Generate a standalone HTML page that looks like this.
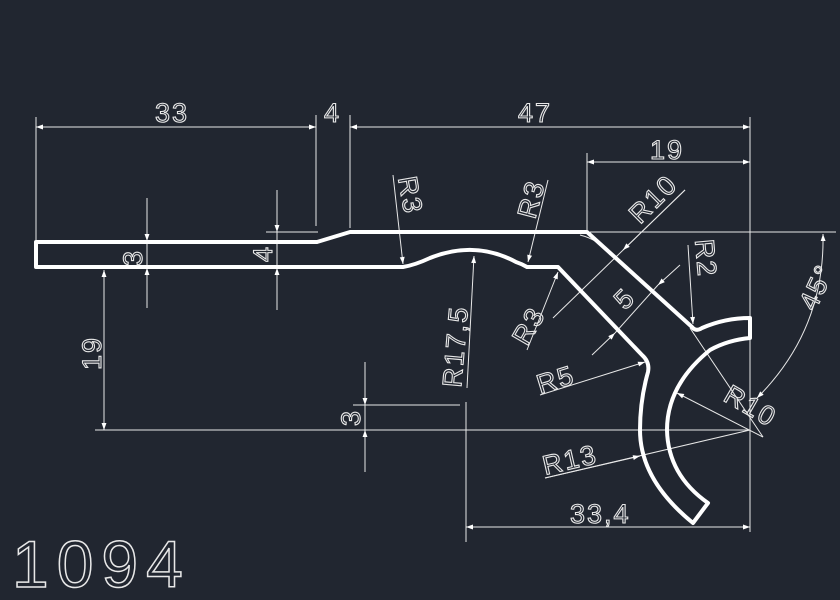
<!DOCTYPE html>
<html><head><style>body{margin:0;background:#212630}svg{display:block}</style></head><body>
<svg width="840" height="600" viewBox="0 0 840 600" xmlns="http://www.w3.org/2000/svg">
<defs><marker id="a" viewBox="0 0 10 10" refX="10" refY="5" markerWidth="18" markerHeight="7" markerUnits="userSpaceOnUse" orient="auto-start-reverse"><path d="M0,1.5L10,5L0,8.5z" fill="#fff"/></marker></defs>
<rect width="840" height="600" fill="#212630"/>
<g stroke="#e8e8e8" stroke-width="1" fill="none">
<line x1="36" y1="117" x2="36" y2="240"/>
<line x1="316" y1="115" x2="316" y2="226"/>
<line x1="350" y1="115" x2="350" y2="228"/>
<line x1="750" y1="117" x2="750" y2="532"/>
<line x1="587" y1="153" x2="587" y2="230"/>
<line x1="590" y1="232" x2="836" y2="232"/>
<line x1="95" y1="430" x2="750" y2="430"/>
<line x1="353" y1="405" x2="460" y2="405"/>
<line x1="466" y1="402" x2="466" y2="542"/>
<line x1="266" y1="232" x2="318" y2="232"/>
<line x1="36" y1="127" x2="316" y2="127" marker-start="url(#a)" marker-end="url(#a)"/>
<line x1="350" y1="127" x2="750" y2="127" marker-start="url(#a)" marker-end="url(#a)"/>
<line x1="587" y1="162" x2="750" y2="162" marker-start="url(#a)" marker-end="url(#a)"/>
<line x1="466" y1="527" x2="750" y2="527" marker-start="url(#a)" marker-end="url(#a)"/>
<line x1="104" y1="270" x2="104" y2="430" marker-start="url(#a)" marker-end="url(#a)"/>
<line x1="147" y1="198" x2="147" y2="241" marker-end="url(#a)"/>
<line x1="147" y1="308" x2="147" y2="268" marker-end="url(#a)"/>
<line x1="147" y1="241" x2="147" y2="268"/>
<line x1="277" y1="190" x2="277" y2="232" marker-end="url(#a)"/>
<line x1="277" y1="310" x2="277" y2="268" marker-end="url(#a)"/>
<line x1="277" y1="232" x2="277" y2="268"/>
<line x1="365" y1="362" x2="365" y2="405" marker-end="url(#a)"/>
<line x1="365" y1="472" x2="365" y2="430" marker-end="url(#a)"/>
<line x1="365" y1="405" x2="365" y2="430"/>
<line x1="393" y1="175" x2="403" y2="264" marker-end="url(#a)"/>
<line x1="548" y1="180" x2="528" y2="262" marker-end="url(#a)"/>
<line x1="685" y1="190" x2="553" y2="318"/>
<line x1="685" y1="190" x2="623" y2="250" marker-end="url(#a)"/>
<line x1="688" y1="245" x2="693" y2="324" marker-end="url(#a)"/>
<line x1="680" y1="265" x2="658" y2="285" marker-end="url(#a)"/>
<line x1="592" y1="355" x2="615" y2="333" marker-end="url(#a)"/>
<line x1="658" y1="285" x2="615" y2="333"/>
<line x1="527" y1="350" x2="558" y2="272" marker-end="url(#a)"/>
<line x1="467" y1="388" x2="474" y2="256" marker-end="url(#a)"/>
<line x1="540" y1="395" x2="645" y2="362" marker-end="url(#a)"/>
<line x1="690" y1="328" x2="763" y2="437"/>
<line x1="763" y1="437" x2="677" y2="393" marker-end="url(#a)"/>
<line x1="545" y1="478" x2="750" y2="430"/>
<line x1="545" y1="478" x2="640" y2="456" marker-end="url(#a)"/>
<path d="M757,398 Q825,330 823,234" marker-start="url(#a)" marker-end="url(#a)"/>
<path d="M580,235 Q600,240 610,255"/>
</g>
<path d="M36,242 L317,242 L350,232 L587,232 L692,327 Q696,332 702,328 Q725,318 750,318 L750,338 Q728,340 710,350 Q667,385 667,430 Q668,475 708,503 L693,523 Q640,480 640,430 Q640,400 648,372 Q650,362 642,355 L558,267 L527,267 Q522,264 516,262 Q475,240 430,258 Q415,265 403,267 L36,267 Z" fill="none" stroke="#fff" stroke-width="4" stroke-linejoin="round"/>
<g fill="none" stroke="#e8e8e8" stroke-width="1.1" font-family="Liberation Sans, sans-serif" font-size="27" letter-spacing="2">
<text x="155" y="122">33</text>
<text x="324" y="122">4</text>
<text x="518" y="122">47</text>
<text x="650" y="159">19</text>
<text x="570" y="523">33,4</text>
<text transform="translate(398,178) rotate(80)">R3</text>
<text transform="translate(535,220) rotate(-75)">R3</text>
<text transform="translate(640,225) rotate(-45)">R10</text>
<text transform="translate(695,240) rotate(85)">R2</text>
<text transform="translate(625,311) rotate(-45)">5</text>
<text transform="translate(527,347) rotate(-60)">R3</text>
<text transform="translate(461,388) rotate(-85)">R17,5</text>
<text transform="translate(540,394) rotate(-17)">R5</text>
<text transform="translate(722,400) rotate(30)">R10</text>
<text transform="translate(545,475) rotate(-13)">R13</text>
<text transform="translate(815,312) rotate(-65)">45°</text>
<text transform="translate(101,370) rotate(-90)">19</text>
<text transform="translate(142,266) rotate(-90)">3</text>
<text transform="translate(272,262) rotate(-90)">4</text>
<text transform="translate(360,426) rotate(-90)">3</text>
</g>
<text x="12" y="587" font-family="Liberation Sans, sans-serif" font-size="66" fill="none" stroke="#e8e8e8" stroke-width="1.5" letter-spacing="8">1094</text>
</svg>
</body></html>
